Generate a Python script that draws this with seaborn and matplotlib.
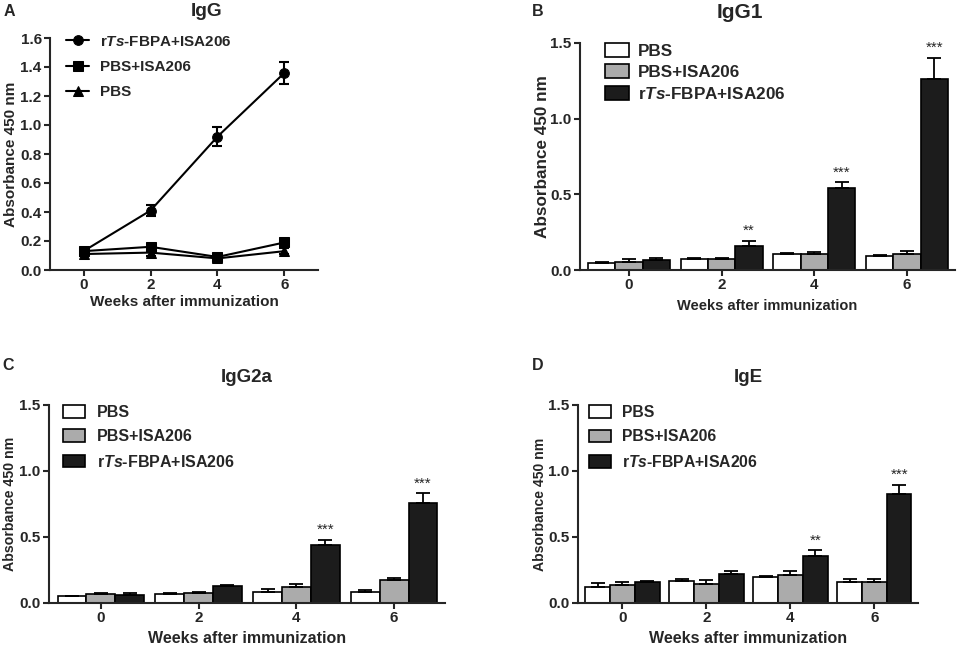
import numpy as np
import pandas as pd
import matplotlib
matplotlib.use("Agg")
import matplotlib.pyplot as plt
import seaborn as sns

# ---------------- data ----------------
weeks = [0, 2, 4, 6]
week_labels = ["0", "2", "4", "6"]
LBL_RTS = r"r$\mathit{Ts}$-FBPA+ISA206"

# Panel A (IgG) line data
igg_rts = [0.13, 0.41, 0.92, 1.36]
igg_rts_err = [0.02, 0.035, 0.065, 0.075]
igg_pbsisa = [0.13, 0.16, 0.09, 0.19]
igg_pbsisa_err = [0.02, 0.02, 0.01, 0.02]
igg_pbs = [0.11, 0.12, 0.08, 0.13]
igg_pbs_err = [0.015, 0.02, 0.01, 0.02]

# Panel B (IgG1)
igg1_pbs = [0.045, 0.075, 0.105, 0.09]
igg1_pbs_err = [0.01, 0.006, 0.006, 0.012]
igg1_pbsisa = [0.055, 0.075, 0.105, 0.105]
igg1_pbsisa_err = [0.015, 0.006, 0.012, 0.022]
igg1_rts = [0.065, 0.16, 0.545, 1.265]
igg1_rts_err = [0.012, 0.032, 0.036, 0.138]
igg1_sig = ["", "**", "***", "***"]

# Panel C (IgG2a)
igg2a_pbs = [0.05, 0.07, 0.085, 0.083]
igg2a_pbs_err = [0.006, 0.006, 0.02, 0.015]
igg2a_pbsisa = [0.07, 0.075, 0.119, 0.172]
igg2a_pbsisa_err = [0.006, 0.01, 0.025, 0.015]
igg2a_rts = [0.062, 0.13, 0.443, 0.761]
igg2a_rts_err = [0.012, 0.01, 0.035, 0.07]
igg2a_sig = ["", "", "***", "***"]

# Panel D (IgE)
ige_pbs = [0.121, 0.167, 0.195, 0.162]
ige_pbs_err = [0.028, 0.013, 0.01, 0.018]
ige_pbsisa = [0.137, 0.147, 0.215, 0.162]
ige_pbsisa_err = [0.025, 0.028, 0.025, 0.023]
ige_rts = [0.157, 0.22, 0.357, 0.822]
ige_rts_err = [0.01, 0.025, 0.043, 0.073]
ige_sig = ["", "", "**", "***"]

# ---------------- style ----------------
sns.set_style("ticks")
plt.rcParams["font.family"] = ["Liberation Sans", "DejaVu Sans"]
plt.rcParams["font.weight"] = "bold"
plt.rcParams["axes.labelweight"] = "bold"
plt.rcParams["mathtext.fontset"] = "custom"
plt.rcParams["mathtext.it"] = "Liberation Sans:italic:bold"
plt.rcParams["mathtext.rm"] = "Liberation Sans:bold"
plt.rcParams["mathtext.bf"] = "Liberation Sans:bold"
plt.rcParams["axes.linewidth"] = 1.5
plt.rcParams["xtick.major.width"] = 1.5
plt.rcParams["ytick.major.width"] = 1.5
plt.rcParams["xtick.major.size"] = 4
plt.rcParams["ytick.major.size"] = 4

W, H = 957, 645
fig = plt.figure(figsize=(W / 100, H / 100), dpi=100)


def px_axes(left, right, bottom, top):
    return fig.add_axes([left / W, (H - bottom) / H, (right - left) / W, (bottom - top) / H])


def style_axes(ax, tick_fs):
    sns.despine(ax=ax)
    for lab in ax.get_xticklabels() + ax.get_yticklabels():
        lab.set_fontweight("bold")
        lab.set_fontsize(tick_fs)
    ax.tick_params(direction="out", length=4, width=1.5, pad=2)


# ---------------- Panel A ----------------
axA = px_axes(50, 318, 270, 38)
dfA = pd.DataFrame({
    "week": weeks * 3,
    "value": igg_rts + igg_pbsisa + igg_pbs,
    "group": [LBL_RTS] * 4 + ["PBS+ISA206"] * 4 + ["PBS"] * 4,
})
orderA = [LBL_RTS, "PBS+ISA206", "PBS"]
sns.lineplot(data=dfA, x="week", y="value", hue="group", style="group",
             hue_order=orderA, style_order=orderA,
             palette={g: "black" for g in orderA},
             markers={LBL_RTS: "o", "PBS+ISA206": "s", "PBS": "^"},
             dashes=False, markersize=7, linewidth=1.5,
             markeredgecolor="black", errorbar=None, ax=axA)
for vals, errs in [(igg_rts, igg_rts_err), (igg_pbsisa, igg_pbsisa_err), (igg_pbs, igg_pbs_err)]:
    axA.errorbar(weeks, vals, yerr=errs, fmt="none", ecolor="black",
                 elinewidth=1.5, capsize=3.6, capthick=1.5)
axA.set_xlim(-1, 7)
axA.set_ylim(0, 1.6)
axA.set_xticks(weeks)
axA.set_xticklabels(week_labels)
axA.set_yticks(np.arange(0, 1.61, 0.2))
axA.set_yticklabels([f"{v:.1f}" for v in np.arange(0, 1.61, 0.2)])
axA.set_xlabel("Weeks after immunization", fontsize=11, fontweight="bold", labelpad=2)
axA.set_ylabel("Absorbance 450 nm", fontsize=11, fontweight="bold", labelpad=2)
style_axes(axA, 11)
legA = axA.legend(loc="upper left", bbox_to_anchor=(0.06, 1.015), frameon=False,
                  fontsize=11, handlelength=1.5, handletextpad=0.7,
                  labelspacing=0.75, borderpad=0, borderaxespad=0)
for t in legA.get_texts():
    t.set_fontweight("bold")


# ---------------- bar panels ----------------
def bar_panel(ax, pbs, pbs_e, isa, isa_e, rts, rts_e, sig, leg_fs, leg_anchor, lspace, tpad):
    df = pd.DataFrame({
        "week": week_labels * 3,
        "value": pbs + isa + rts,
        "group": ["PBS"] * 4 + ["PBS+ISA206"] * 4 + [LBL_RTS] * 4,
    })
    order = ["PBS", "PBS+ISA206", LBL_RTS]
    pal = {"PBS": "white", "PBS+ISA206": "#ababab", LBL_RTS: "#1c1c1c"}
    sns.barplot(data=df, x="week", y="value", hue="group", hue_order=order,
                order=week_labels, palette=pal, edgecolor="black", linewidth=1.2,
                width=0.885, errorbar=None, ax=ax, saturation=1)
    bar_conts = list(ax.containers[:3])
    errs = [pbs_e, isa_e, rts_e]
    vals = [pbs, isa, rts]
    for ci, cont in enumerate(bar_conts):
        xs = [b.get_x() + b.get_width() / 2 for b in cont]
        ax.errorbar(xs, vals[ci], yerr=[np.zeros(4), errs[ci]], fmt="none",
                    ecolor="black", elinewidth=1.3, capsize=5, capthick=1.3, zorder=1)
    for i, b in enumerate(bar_conts[2]):
        if sig[i]:
            ax.annotate(sig[i], (b.get_x() + b.get_width() / 2, rts[i] + rts_e[i]),
                        xytext=(0, 2), textcoords="offset points", ha="center",
                        va="bottom", fontsize=11, fontweight="normal")
    ax.set_xlim(-0.53, 3.52)
    ax.set_ylim(0, 1.5)
    ax.set_yticks([0, 0.5, 1.0, 1.5])
    ax.set_yticklabels(["0.0", "0.5", "1.0", "1.5"])
    leg = ax.legend(loc="upper left", bbox_to_anchor=leg_anchor, frameon=False,
                    fontsize=leg_fs, handlelength=1.4, handleheight=0.85,
                    handletextpad=tpad, labelspacing=lspace, borderpad=0, borderaxespad=0)
    for t in leg.get_texts():
        t.set_fontweight("bold")


axB = px_axes(580, 955, 270, 43)
bar_panel(axB, igg1_pbs, igg1_pbs_err, igg1_pbsisa, igg1_pbsisa_err, igg1_rts, igg1_rts_err,
          igg1_sig, 12.3, (25 / 375, 1.0), 0.33, 0.55)
axB.set_xlabel("Weeks after immunization", fontsize=10.5, fontweight="bold", labelpad=5)
axB.set_ylabel("Absorbance 450 nm", fontsize=12.3, fontweight="bold", labelpad=0)
style_axes(axB, 11)

axC = px_axes(49, 445, 603, 405)
bar_panel(axC, igg2a_pbs, igg2a_pbs_err, igg2a_pbsisa, igg2a_pbsisa_err, igg2a_rts, igg2a_rts_err,
          igg2a_sig, 11.5, (14 / 396, 1.0), 0.58, 0.7)
axC.set_xlabel("Weeks after immunization", fontsize=11.5, fontweight="bold", labelpad=4)
axC.set_ylabel("Absorbance 450 nm", fontsize=10.2, fontweight="bold", labelpad=2)
style_axes(axC, 11)

axD = px_axes(578, 918, 603, 405)
bar_panel(axD, ige_pbs, ige_pbs_err, ige_pbsisa, ige_pbsisa_err, ige_rts, ige_rts_err,
          ige_sig, 11.3, (11 / 340, 1.0), 0.6, 0.7)
axD.set_xlabel("Weeks after immunization", fontsize=11.5, fontweight="bold", labelpad=4)
axD.set_ylabel("Absorbance 450 nm", fontsize=10.1, fontweight="bold", labelpad=1)
style_axes(axD, 11)

# ---------------- titles and panel letters ----------------
def ftext(x, y, s, **kw):
    fig.text(x / W, 1 - y / H, s, ha="center", va="center", fontweight="bold", **kw)

ftext(207, 12, "IgG", fontsize=13.8)
ftext(740, 12, "IgG1", fontsize=15)
ftext(247, 378, "IgG2a", fontsize=13.5)
ftext(748, 378, "IgE", fontsize=13.5)
ftext(9, 12, "A", fontsize=11.5)
ftext(538, 12, "B", fontsize=11.5)
ftext(8, 365, "C", fontsize=11.5)
ftext(538, 365, "D", fontsize=11.5)

fig.savefig("out.png", dpi=100)
